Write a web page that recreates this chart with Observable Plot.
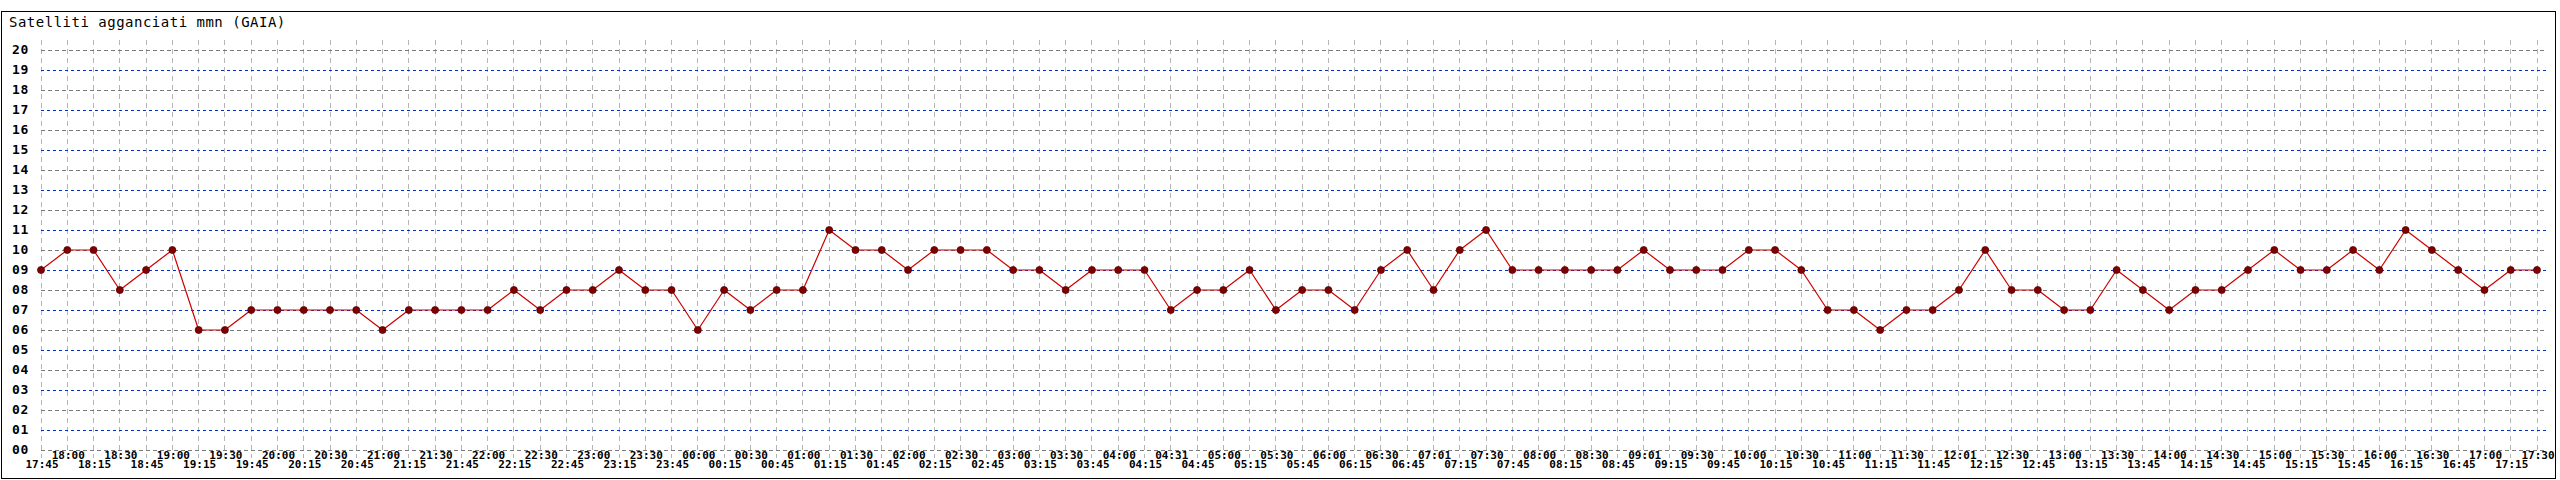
<!DOCTYPE html>
<html>
<head>
<meta charset="utf-8">
<script src="https://cdn.jsdelivr.net/npm/d3@7"></script>
<script src="https://cdn.jsdelivr.net/npm/@observablehq/plot@0.6"></script>
<style>
  html, body { margin: 0; padding: 0; background: #fff; }
  #wrap { position: relative; width: 2560px; height: 480px; overflow: hidden; background: #fff; }
  #border { position: absolute; left: 1px; top: 11px; width: 2555px; height: 468px; border: 1px solid #000; box-sizing: border-box; pointer-events: none; }
  #title { position: absolute; left: 9px; top: 15px; font: 14px "DejaVu Sans Mono", monospace; letter-spacing: 0.5px; line-height: 14px; color: #000; white-space: pre; }
  #chart { position: absolute; left: 0; top: 0; }
  g[aria-label="y-axis tick label"] text { letter-spacing: 0.7px; }
</style>
</head>
<body>
<div id="wrap">
  <div id="chart"></div>
  <div id="border"></div>
  <div id="title">Satelliti agganciati mmn (GAIA)</div>
</div>
<script>
const times = [
  "17:45","18:00","18:15","18:30","18:45","19:00","19:15","19:30","19:45","20:00",
  "20:15","20:30","20:45","21:00","21:15","21:30","21:45","22:00","22:15","22:30",
  "22:45","23:00","23:15","23:30","23:45","00:00","00:15","00:30","00:45","01:00",
  "01:15","01:30","01:45","02:00","02:15","02:30","02:45","03:00","03:15","03:30",
  "03:45","04:00","04:15","04:31","04:45","05:00","05:15","05:30","05:45","06:00",
  "06:15","06:30","06:45","07:01","07:15","07:30","07:45","08:00","08:15","08:30",
  "08:45","09:01","09:15","09:30","09:45","10:00","10:15","10:30","10:45","11:00",
  "11:15","11:30","11:45","12:01","12:15","12:30","12:45","13:00","13:15","13:30",
  "13:45","14:00","14:15","14:30","14:45","15:00","15:15","15:30","15:45","16:00",
  "16:15","16:30","16:45","17:00","17:15","17:30"
];
const satellites = [
  9,10,10,8,9,10,6,6,7,7,7,7,7,6,7,7,7,7,
  8,7,8,8,9,8,8,6,8,7,8,8,11,10,10,9,10,10,
  10,9,9,8,9,9,9,7,8,8,9,7,8,8,7,9,10,8,10,
  11,9,9,9,9,9,10,9,9,9,10,10,9,7,7,6,7,7,
  8,10,8,8,7,7,9,8,7,8,8,9,10,9,9,10,9,11,10,9,8,9,9
];
const yTicks = [0,1,2,3,4,5,6,7,8,9,10,11,12,13,14,15,16,17,18,19,20];

const rows = times.map((t, i) => ({i, time: t, value: satellites[i]}));
const idx = rows.map(d => d.i);

const W = 2560, H = 480;
const left = 40.5, right = 2536.5;

const chart = Plot.plot({
  width: W,
  height: H,
  marginLeft: left,
  marginRight: W - 2547,
  marginTop: 40,
  marginBottom: H - 458,
  style: {fontFamily: "'DejaVu Sans Mono', monospace", fontWeight: "bold", background: "transparent", color: "#000"},
  x: {type: "linear", domain: [0, times.length - 1], range: [left, right], axis: null},
  y: {domain: [0, 20], range: [449.5, 49.5], axis: null},
  marks: [
    Plot.ruleX(idx, {x: d => d, stroke: "#b4b4b4", strokeWidth: 1, strokeDasharray: "5,4", shapeRendering: "crispEdges"}),
    Plot.ruleY(yTicks.filter(v => v % 2 === 0), {y: d => d, stroke: "#7a7a7a", strokeWidth: 1, strokeDasharray: "4,3", shapeRendering: "crispEdges"}),
    Plot.ruleY(yTicks.filter(v => v % 2 === 1), {y: d => d, stroke: "#0030cc", strokeWidth: 1, strokeDasharray: "3,3", shapeRendering: "crispEdges"}),
    Plot.axisY({ticks: yTicks, tickFormat: d3.format("02d"), tickSize: 0, tickPadding: 12, fontSize: 13, fontWeight: "bold", label: null}),
    Plot.text(idx.filter(i => i % 2 === 1), {x: d => d, text: d => times[d], frameAnchor: "bottom", dy: 0, dx: 1, fontSize: 11, fontWeight: "bold", fill: "#000"}),
    Plot.text(idx.filter(i => i % 2 === 0), {x: d => d, text: d => times[d], frameAnchor: "bottom", dy: 9.7, dx: 1, fontSize: 11, fontWeight: "bold", fill: "#000"}),
    Plot.line(rows, {x: "i", y: "value", stroke: "#cc0000", strokeWidth: 1.2}),
    Plot.dot(rows, {x: "i", y: "value", r: 3.5, fill: "#800000", stroke: "#5a0000", strokeWidth: 0.8})
  ]
});
document.getElementById("chart").appendChild(chart);
</script>
</body>
</html>
